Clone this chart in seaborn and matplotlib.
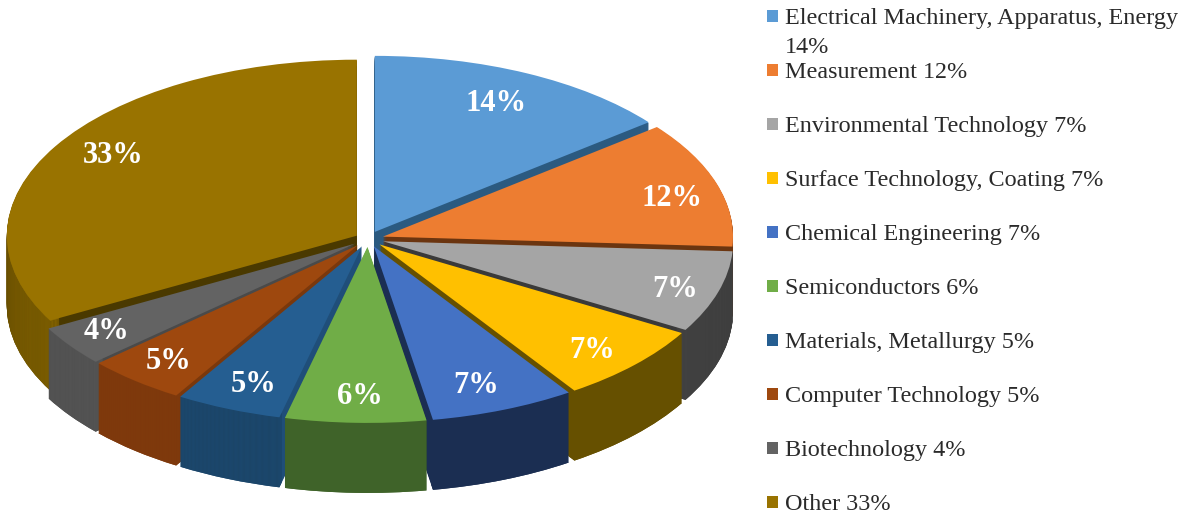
import matplotlib
matplotlib.use("Agg")
import matplotlib.pyplot as plt
import numpy as np
import pandas as pd
import seaborn as sns

categories = ["Electrical Machinery, Apparatus, Energy\n14%", "Measurement 12%",
              "Environmental Technology 7%", "Surface Technology, Coating 7%",
              "Chemical Engineering 7%", "Semiconductors 6%",
              "Materials, Metallurgy 5%", "Computer Technology 5%",
              "Biotechnology 4%", "Other 33%"]
values = [14.3, 11.6, 7.49, 7.2, 6.7, 6.49, 4.9, 4.6, 3.7, 33.0]
top_colors = ["#5B9BD5", "#ED7D31", "#A5A5A5", "#FFC000", "#4472C4",
              "#70AD47", "#255E91", "#9E480E", "#636363", "#997300"]
rim_colors = ["#2F5F8A", "#6B3510", "#434343", "#665000", "#1B2E52",
              "#3F6329", "#1B4568", "#803A0C", "#555555", "#856400"]
cut_colors = ["#2B5A80", "#6B3510", "#3A3A3A", "#665000", "#1B2E52",
              "#3F6329", "#1F4E79", "#7A380C", "#4A4A4A", "#4A3900"]
label_nudge_px = [(-8, 6), (5, 7), (7, 5), (-4, 4), (-8, 0),
                  (3, 0), (5, 0), (0, 1), (-6, 1), (12, -4)]

W, H = 1187, 516
CX, CY, RX, RY, DEPTH = 368, 239, 350, 176, 70
explode = [0.045] * 9 + [0.037]

sns.set_theme(style="white")
plt.rcParams["font.family"] = ["Liberation Serif", "DejaVu Serif"]

fig = plt.figure(figsize=(W / 100, H / 100), dpi=100)
ax = fig.add_axes([0, 0, 1, 1])
common = dict(startangle=90, counterclock=False, explode=explode, normalize=True)

# extruded walls: stacked pies from the bottom layer up to the top face
for px in np.arange(DEPTH, 0, -1):
    c = (0, -px / RY)
    ax.pie(values, colors=cut_colors, center=c, wedgeprops=dict(linewidth=0), **common)
    ax.pie(values, colors=rim_colors, center=c, wedgeprops=dict(linewidth=0, width=0.03), **common)

# top face with percent labels
_, _, pct_texts = ax.pie(values, colors=sns.color_palette(top_colors), center=(0, 0),
                         autopct="%.0f%%", pctdistance=0.85, wedgeprops=dict(linewidth=0),
                         textprops=dict(color="white", fontweight="bold", fontsize=22,
                                        family="Liberation Serif"),
                         **common)
for t, (dx, dy) in zip(pct_texts, label_nudge_px):
    x, y = t.get_position()
    t.set_position((x + dx / RX, y - dy / RY))
ax.set_aspect("auto")
ax.set_xlim((0 - CX) / RX, (W - CX) / RX)
ax.set_ylim((CY - H) / RY, CY / RY)
ax.axis("off")

# legend column in a pixel-scaled overlay axes
leg = fig.add_axes([0, 0, 1, 1], facecolor="none")
rows = 16 + 54 * np.arange(len(categories))
df = pd.DataFrame({"x": 772.5, "y": rows, "name": categories})
sns.scatterplot(data=df, x="x", y="y", hue="name", palette=top_colors, marker="s",
                s=66, linewidth=0, legend=False, ax=leg)
for y, name in zip(rows, categories):
    for i, line in enumerate(name.split("\n")):
        leg.text(785, y + 8 + 29 * i, line, fontsize=17.4, color="#2A2A2A",
                 va="baseline", ha="left")
leg.set_xlim(0, W)
leg.set_ylim(H, 0)
leg.axis("off")

fig.savefig("out.png", dpi=100)
